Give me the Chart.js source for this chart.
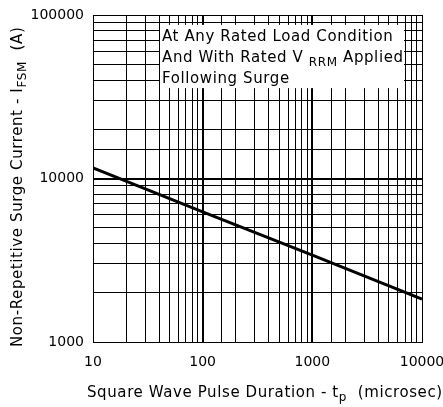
<!DOCTYPE html>
<html>
<head>
<meta charset="utf-8">
<script src="https://cdn.jsdelivr.net/npm/chart.js@4"></script>
<style>
  html, body { margin: 0; padding: 0; background: #fff; }
  #wrap { width: 443px; height: 407px; }
</style>
</head>
<body>
<div id="wrap"><canvas id="surge"></canvas></div>
<script>
const pulseWidth = [10, 100, 1000, 10000];          // microsec
const surgeCurrent = [11600, 6250, 3400, 1830];      // A
const xTicks = [10, 100, 1000, 10000];
const yTicks = [1000, 10000, 100000];

const FONT = 'DejaVu Sans';
const isDecade = v => Math.abs(Math.log10(v) - Math.round(Math.log10(v))) < 1e-6;

// text runs with optional subscripts, drawn from x
function setFont(ctx, r) {
  ctx.font = (r.sub ? 12 : 15) + 'px "' + FONT + '"';
  ctx.letterSpacing = '0.6px';
}
function drawRuns(ctx, runs, x, y) {
  runs.forEach(r => {
    setFont(ctx, r);
    ctx.fillText(r.t, x, y + (r.sub ? 4 : 0));
    x += ctx.measureText(r.t).width;
  });
}

const notes = {
  id: 'notes',
  beforeDatasetsDraw(chart) {
    const { ctx, scales: { x, y } } = chart;
    const l = x.getPixelForValue(40) + 1, r = x.getPixelForValue(7000) - 1;
    const t = y.getPixelForValue(87000), b = y.getPixelForValue(35700);
    ctx.save();
    ctx.fillStyle = '#fff';
    ctx.fillRect(l, t, r - l, b - t);
    ctx.fillStyle = '#000';
    ctx.textBaseline = 'alphabetic';
    drawRuns(ctx, [{ t: 'At Any Rated Load Condition' }], l + 2, t + 16);
    drawRuns(ctx, [{ t: 'And With Rated V ' }, { t: 'RRM', sub: true }, { t: ' Applied' }], l + 2, t + 37);
    drawRuns(ctx, [{ t: 'Following Surge' }], l + 2, t + 58);
    ctx.restore();
  },
  afterDraw(chart) {
    const { ctx, chartArea: a } = chart;
    ctx.save();
    ctx.fillStyle = '#000';
    ctx.textBaseline = 'alphabetic';
    drawRuns(ctx, [{ t: 'Square Wave Pulse Duration - t' }, { t: 'p', sub: true }, { t: '  (microsec)' }], 87, a.bottom + 55);
    ctx.translate(22, 347);
    ctx.rotate(-Math.PI / 2);
    drawRuns(ctx, [{ t: 'Non-Repetitive Surge Current - I' }, { t: 'FSM', sub: true }, { t: '  (A)' }], 0, 0);
    ctx.restore();
  }
};

new Chart(document.getElementById('surge'), {
  type: 'scatter',
  data: {
    datasets: [{
      data: pulseWidth.map((v, i) => ({ x: v, y: surgeCurrent[i] })),
      showLine: true,
      borderColor: '#000',
      borderWidth: 3,
      pointRadius: 0
    }]
  },
  options: {
    responsive: true,
    maintainAspectRatio: false,
    animation: false,
    layout: { padding: { top: 15, right: 21, left: 0, bottom: 0 } },
    plugins: { legend: { display: false }, tooltip: { enabled: false } },
    scales: {
      x: {
        type: 'logarithmic',
        min: 10, max: 10000,
        afterFit: s => { s.height = 65; s.paddingLeft = 0; s.paddingRight = 0; },
        border: { color: '#000', width: 1 },
        grid: {
          color: '#000',
          drawTicks: false,
          lineWidth: c => isDecade(c.tick.value) && c.tick.value > 10 && c.tick.value < 10000 ? 2 : 1
        },
        ticks: {
          color: '#000',
          font: { family: FONT, size: 14 },
          padding: 12,
          maxRotation: 0,
          autoSkip: false,
          callback: v => xTicks.includes(v) ? String(v) : ''
        }
      },
      y: {
        type: 'logarithmic',
        min: 1000, max: 100000,
        afterFit: s => { s.width = 93; s.paddingTop = 0; s.paddingBottom = 0; },
        border: { color: '#000', width: 1 },
        grid: {
          color: '#000',
          drawTicks: false,
          lineWidth: c => isDecade(c.tick.value) && c.tick.value > 1000 && c.tick.value < 100000 ? 2 : 1
        },
        ticks: {
          color: '#000',
          font: { family: FONT, size: 14 },
          padding: 9,
          autoSkip: false,
          callback: v => yTicks.includes(v) ? String(v) : ''
        }
      }
    }
  },
  plugins: [notes]
});
</script>
</body>
</html>
